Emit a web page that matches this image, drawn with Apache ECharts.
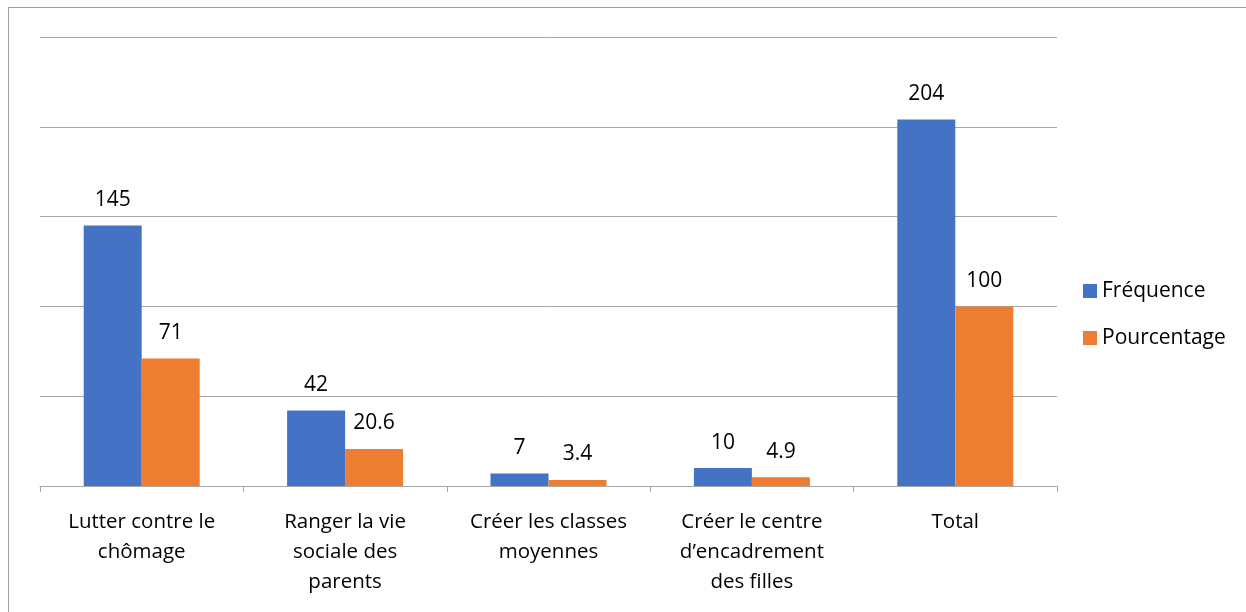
<!DOCTYPE html>
<html>
<head>
<meta charset="utf-8">
<script src="https://cdn.jsdelivr.net/npm/echarts@6/dist/echarts.min.js"></script>
<style>
  html, body { margin: 0; padding: 0; background: #fff; }
  #frame { position: absolute; left: 8px; top: 7px; width: 1300px; height: 700px;
           border-left: 1px solid #a0a0a0; border-top: 1px solid #a0a0a0; }
  #chart { position: absolute; left: 0; top: 0; width: 1246px; height: 612px; }
</style>
</head>
<body>
<div id="frame"></div>
<div id="chart"></div>
<script>
var categories = ['Lutter contre le\nchômage', 'Ranger la vie\nsociale des\nparents', 'Créer les classes\nmoyennes', 'Créer le centre\nd\u2019encadrement\ndes filles', 'Total'];
var frequence = [145, 42, 7, 10, 204];
var pourcentage = [71, 20.6, 3.4, 4.9, 100];

var chart = echarts.init(document.getElementById('chart'));
var font = '"Open Sans", "Noto Sans", sans-serif';
var labelStyle = { show: true, position: 'top', distance: 15, color: '#000', fontSize: 21, fontFamily: font };

chart.setOption({
    animation: false,
    legend: {
        orient: 'vertical',
        left: 1078,
        top: 275,
        itemWidth: 14,
        itemHeight: 14,
        itemGap: 25,
        icon: 'rect',
        textStyle: { fontSize: 21, lineHeight: 22, color: '#000', fontFamily: font },
        data: ['Fréquence', 'Pourcentage']
    },
    grid: { left: 40, right: 189, top: 37, bottom: 126 },
    xAxis: {
        type: 'category',
        data: categories,
        axisLine: { lineStyle: { color: '#a6a6a6', width: 1 } },
        axisTick: { show: true, length: 6, lineStyle: { color: '#a6a6a6' } },
        axisLabel: { color: '#000', fontSize: 20.5, fontFamily: font, lineHeight: 30, margin: 21, interval: 0 }
    },
    yAxis: {
        type: 'value',
        min: 0,
        max: 250,
        interval: 50,
        axisLabel: { show: false },
        axisLine: { show: false },
        axisTick: { show: false },
        splitLine: { lineStyle: { color: '#a6a6a6', width: 1 } }
    },
    series: [
        {
            name: 'Fréquence',
            type: 'bar',
            data: frequence,
            barWidth: 58,
            barGap: '0%',
            itemStyle: { color: '#4472c4' },
            label: labelStyle
        },
        {
            name: 'Pourcentage',
            type: 'bar',
            data: pourcentage,
            barWidth: 58,
            barGap: '0%',
            itemStyle: { color: '#ed7d31' },
            label: labelStyle
        }
    ]
});
</script>
</body>
</html>
